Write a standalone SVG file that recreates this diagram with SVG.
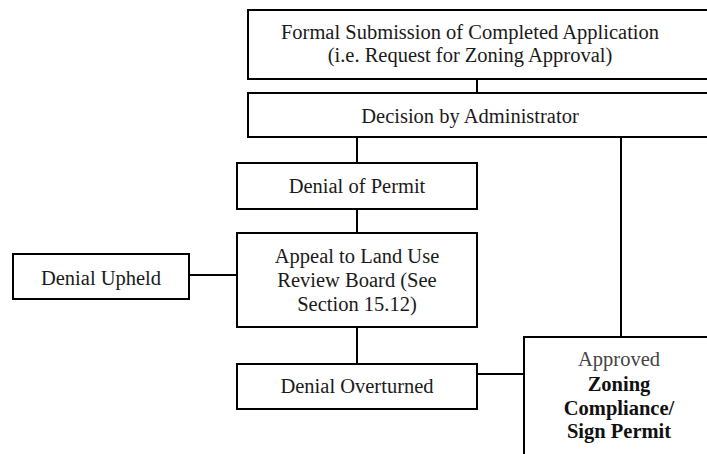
<svg xmlns="http://www.w3.org/2000/svg" width="707" height="454" viewBox="0 0 707 454">
<style>
.box{fill:#fff;stroke:#000;stroke-width:2}
.t{font-family:"Liberation Serif","Times New Roman",serif;font-size:20.5px;fill:#1a1a1a;text-anchor:middle}
.b{font-weight:bold;fill:#111}
.g{fill:#444}
.c{stroke:#000;stroke-width:2;fill:none}
</style>
<rect width="707" height="454" fill="#fff"/>
<g id="connectors">
<line class="c" x1="477" y1="79" x2="477" y2="93"/>
<line class="c" x1="357" y1="137" x2="357" y2="163"/>
<line class="c" x1="621" y1="137" x2="621" y2="337"/>
<line class="c" x1="357" y1="209" x2="357" y2="233"/>
<line class="c" x1="189" y1="275" x2="237" y2="275"/>
<line class="c" x1="357" y1="327" x2="357" y2="364"/>
<line class="c" x1="477" y1="374" x2="524" y2="374"/>
</g>
<g id="submission">
<rect class="box" x="248" y="10" width="470" height="69"/>
<text class="t" x="470" y="39">Formal Submission of Completed Application</text>
<text class="t" x="470" y="62">(i.e. Request for Zoning Approval)</text>
</g>
<g id="decision">
<rect class="box" x="248" y="93" width="470" height="44"/>
<text class="t" x="470" y="123">Decision by Administrator</text>
</g>
<g id="denial">
<rect class="box" x="237" y="163" width="240" height="46"/>
<text class="t" x="357" y="193">Denial of Permit</text>
</g>
<g id="appeal">
<rect class="box" x="237" y="233" width="240" height="94"/>
<text class="t" x="357" y="263">Appeal to Land Use</text>
<text class="t" x="357" y="287">Review Board (See</text>
<text class="t" x="357" y="311">Section 15.12)</text>
</g>
<g id="upheld">
<rect class="box" x="13" y="254" width="176" height="45"/>
<text class="t" x="101" y="285">Denial Upheld</text>
</g>
<g id="overturned">
<rect class="box" x="237" y="364" width="240" height="45"/>
<text class="t" x="357" y="393">Denial Overturned</text>
</g>
<g id="approved">
<rect class="box" x="524" y="337" width="200" height="130"/>
<text class="t g" x="619" y="366">Approved</text>
<text class="t b" x="619" y="391">Zoning</text>
<text class="t b" x="619" y="415">Compliance/</text>
<text class="t b" x="619" y="438">Sign Permit</text>
</g>
</svg>
